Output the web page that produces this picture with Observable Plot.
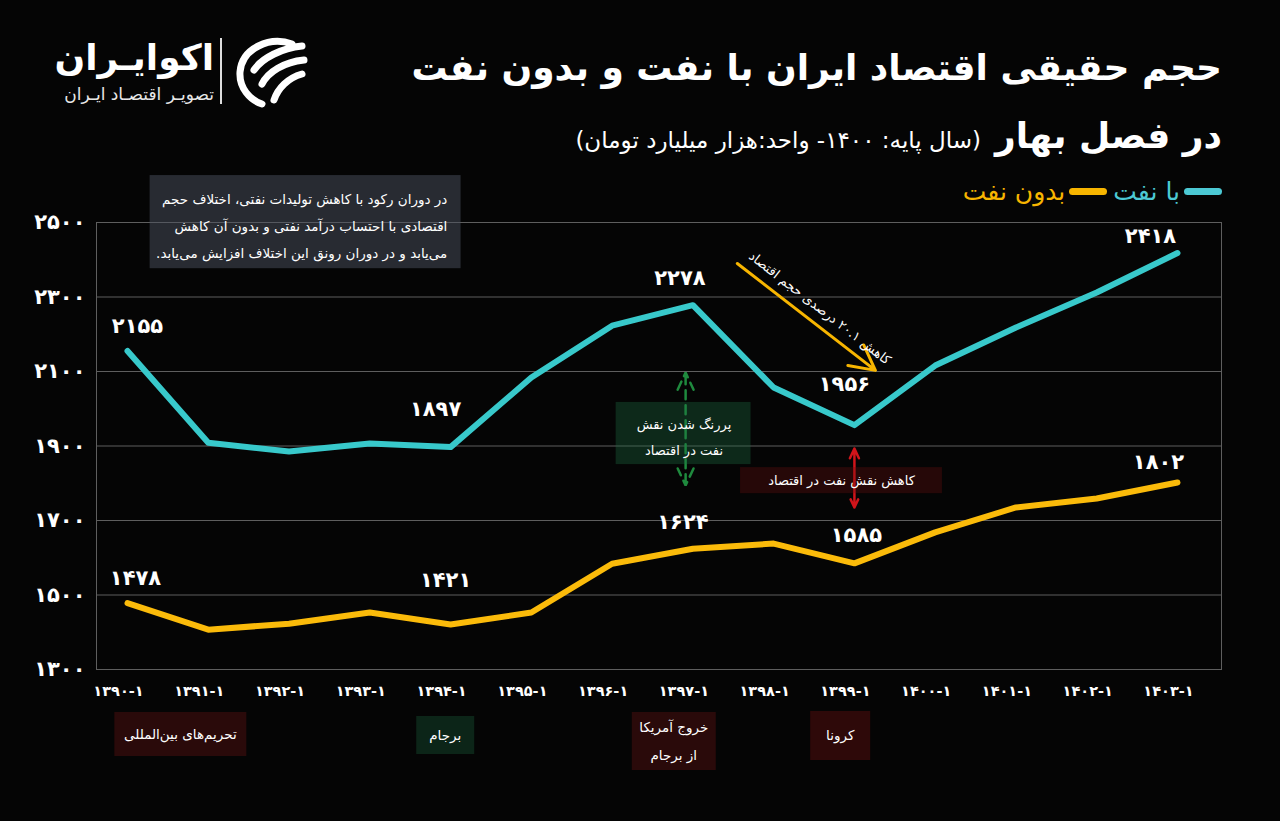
<!DOCTYPE html>
<html><head><meta charset="utf-8">
<script src="https://cdn.jsdelivr.net/npm/d3@7"></script>
<script src="https://cdn.jsdelivr.net/npm/@observablehq/plot@0.6"></script>
<style>
html,body{margin:0;padding:0;background:#050505;}
#wrap{position:relative;width:1280px;height:821px;overflow:hidden;background:#050505;font-family:'DejaVu Sans',sans-serif;color:#fff;}
.abs{position:absolute;white-space:nowrap;}
#chart{position:absolute;left:0;top:0;}
#t1{right:58px;top:50px;font-size:36px;font-weight:bold;direction:rtl;line-height:1;}
#t2{right:58px;top:118px;direction:rtl;line-height:1;}
#t2 .b{font-size:36px;font-weight:bold;}
#t2 .s{font-size:23px;margin-right:14px;}
#legend{right:58px;top:179px;direction:rtl;display:flex;align-items:center;font-size:25px;line-height:1;}
#legend .sw{width:38px;height:7px;border-radius:4px;margin-left:4px;}
#logo{left:50px;top:36px;width:260px;height:72px;}
#logo .n{position:absolute;right:96px;top:2px;font-size:36px;font-weight:bold;direction:rtl;line-height:1.1;}
#logo .d{position:absolute;right:96px;top:50px;font-size:17px;direction:rtl;line-height:1;color:#e8e8e8;}
#logo .bar{position:absolute;left:170px;top:2px;width:2px;height:66px;background:#ddd;}
#logo svg{position:absolute;left:182px;top:0;}
</style></head>
<body><div id="wrap">
<div id="chart"></div>
<div class="abs" id="logo">
  <div class="n">اکوایـران</div>
  <div class="d">تصویـر اقتصـاد ایـران</div>
  <div class="bar"></div>
  <svg width="76" height="72" viewBox="0 0 76 72">
    <g fill="none" stroke="#fff" stroke-linecap="round">
      <path d="M60 8 C38 0 10 12 8 36 C7 52 18 64 30 68" stroke-width="7"/>
      <path d="M70 10 C50 12 30 22 22 34" stroke-width="7"/>
      <path d="M72 24 C52 26 36 36 30 48" stroke-width="7"/>
      <path d="M70 38 C56 42 46 52 42 64" stroke-width="7"/>
    </g>
  </svg>
</div>
<div class="abs" id="t1">حجم حقیقی اقتصاد ایران با نفت و بدون نفت</div>
<div class="abs" id="t2"><span class="b">در فصل بهار</span><span class="s">(سال پایه: ۱۴۰۰- واحد:هزار میلیارد تومان)</span></div>
<div class="abs" id="legend">
  <span class="sw" style="background:#4cc9d4"></span><span style="color:#4cc9d4;margin-left:6px">با نفت</span>
  <span class="sw" style="background:#f7b500"></span><span style="color:#f7b500">بدون نفت</span>
</div>
</div>
<script>
// ---- data ----
const years = [1390, 1391, 1392, 1393, 1394, 1395, 1396, 1397, 1398, 1399, 1400, 1401, 1402, 1403];
const withOil = [2155, 1909, 1885, 1907, 1897, 2084, 2223, 2278, 2057, 1956, 2116, 2218, 2312, 2418];
const withoutOil = [1478, 1407, 1423, 1453, 1421, 1453, 1584, 1624, 1638, 1585, 1668, 1735, 1759, 1802];
const seriesNames = ["با نفت", "بدون نفت"];
const yTicks = [1300, 1500, 1700, 1900, 2100, 2300, 2500];
const labeledYears = [1390, 1394, 1397, 1399, 1403];
const events = ["تحریم‌های بین‌المللی", "برجام", "خروج آمریکا\nاز برجام", "کرونا"];
const noteText = "در دوران رکود با کاهش تولیدات نفتی، اختلاف حجم\nاقتصادی با احتساب درآمد نفتی و بدون آن کاهش\nمی‌یابد و در دوران رونق این اختلاف افزایش می‌یابد.";
const greenNote = "پررنگ شدن نقش\nنفت در اقتصاد";
const redNote = "کاهش نقش نفت در اقتصاد";
const arrowNote = "کاهش ۲۰.۱ درصدی حجم اقتصاد";

// ---- helpers ----
const fa = v => String(v).replace(/\d/g, d => "۰۱۲۳۴۵۶۷۸۹"[+d]);
const rtl = s => s.split("\n").map(l => "\u200F" + l + "\u200F").join("\n");
const colors = ["#38c9cb", "#fbbb0a"];
const rows = years.flatMap((yr, i) => [
  {year: yr, value: withOil[i], series: seriesNames[0]},
  {year: yr, value: withoutOil[i], series: seriesNames[1]}
]);

// layout of value labels (pixel offsets)
const labelOffsets = {
  [seriesNames[0]]: {1390: [10, -25], 1394: [-15, -38], 1397: [-13, -27], 1399: [-10, -41], 1403: [-27, -17]},
  [seriesNames[1]]: {1390: [8, -25], 1394: [-5, -44], 1397: [-10, -27], 1399: [2, -28], 1403: [-19, -20]}
};
const labelRows = rows.filter(r => labeledYears.includes(r.year));
const font = "'DejaVu Sans', sans-serif";

const labelMarks = labelRows.map(r => {
  const [dx, dy] = labelOffsets[r.series][r.year];
  return Plot.text([r], {x: "year", y: "value", text: d => fa(d.value), dx, dy,
    fill: "#fff", fontSize: 21, fontWeight: "bold"});
});

const plot = Plot.plot({
  width: 1280, height: 821,
  marginLeft: 96, marginRight: 59, marginTop: 222, marginBottom: 152,
  style: {background: "transparent", color: "#fff", fontFamily: font, overflow: "visible"},
  x: {type: "linear", domain: [1389.616, 1403.545], axis: null, label: null},
  y: {domain: [1300, 2500], axis: null, label: null},
  color: {domain: seriesNames, range: colors},
  marks: [
    Plot.gridY(yTicks, {stroke: "#5e5e5e", strokeOpacity: 1, strokeWidth: 1}),
    Plot.frame({stroke: "#5e5e5e"}),
    Plot.axisY(yTicks, {tickSize: 0, tickPadding: 11, tickFormat: fa, fontSize: 21, fontWeight: "bold", fill: "#fff", label: null}),
    Plot.axisX(years, {tickSize: 0, tickPadding: 16, dx: -9, label: null,
      tickFormat: y => "\u202D" + fa(y) + "-" + fa(1) + "\u202C", fontSize: 14.5, fontWeight: "bold", fill: "#fff"}),
    // top-left note box
    Plot.rect([0], {x1: 1390.28, x2: 1394.13, y1: 2376, y2: 2626, fill: "rgba(75,82,95,0.5)"}),
    Plot.text([rtl(noteText)], {x: 1393.96, y: 2501, text: d => d, textAnchor: "end", fontSize: 13.5, lineHeight: 2.0, fill: "#fff"}),
    // green arrows + box
    Plot.arrow([{y1: 1945, y2: 2097}, {y1: 1945, y2: 1794}], {x1: 1396.91, x2: 1396.91, y1: "y1", y2: "y2",
      stroke: "#1f8a3e", strokeWidth: 2.5, strokeDasharray: "9,6", headLength: 12, headAngle: 50}),
    Plot.rect([0], {x1: 1396.05, x2: 1397.72, y1: 1850, y2: 2017, fill: "rgba(30,110,65,0.35)"}),
    Plot.text([rtl(greenNote)], {x: 1396.89, y: 1933, text: d => d, fontSize: 13, lineHeight: 2, fill: "#fff"}),
    // red arrows + box
    Plot.arrow([{y1: 1807, y2: 1893}, {y1: 1807, y2: 1735}], {x1: 1399, x2: 1399, y1: "y1", y2: "y2",
      stroke: "#d0141a", strokeWidth: 2.5, headLength: 11, headAngle: 50}),
    Plot.rect([0], {x1: 1397.59, x2: 1400.09, y1: 1772, y2: 1842, fill: "rgba(110,15,15,0.32)"}),
    Plot.text([rtl(redNote)], {x: 1398.84, y: 1807, text: d => d, fontSize: 13, fill: "#fff"}),
    // yellow arrow with rotated note
    Plot.arrow([0], {x1: 1397.55, y1: 2390, x2: 1399.26, y2: 2103, stroke: "#f7b500", strokeWidth: 3, headLength: 14, headAngle: 55}),
    Plot.text([arrowNote], {x: 1398.57, y: 2270, text: d => d, rotate: 37.8, fontSize: 13, fill: "#fff"}),
    // series
    Plot.line(rows, {x: "year", y: "value", z: "series", stroke: "series", strokeWidth: 6,
      strokeLinejoin: "round", strokeLinecap: "round"}),
    ...labelMarks
  ]
});
document.getElementById("chart").appendChild(plot);

// bottom event boxes positioned with the chart's x scale
const xs = plot.scale("x");
const eventLayout = [
  {at: 1390.66, w: 132, top: 712, h: 44, fill: "#2a0a0a"},
  {at: 1393.94, w: 58, top: 716, h: 38, fill: "#0c2518"},
  {at: 1396.77, w: 84, top: 712, h: 58, fill: "#2a0a0a"},
  {at: 1398.83, w: 60, top: 711, h: 49, fill: "rgba(80,12,12,0.55)"}
];
const svg = d3.select(plot);
const g = svg.append("g").attr("font-family", font).attr("fill", "#fff").attr("font-size", 13.5).attr("text-anchor", "middle");
events.forEach((txt, i) => {
  const L = eventLayout[i];
  const cx = xs.apply(L.at);
  g.append("rect").attr("x", cx - L.w / 2).attr("y", L.top).attr("width", L.w).attr("height", L.h).attr("fill", L.fill);
  const lines = txt.split("\n");
  const lh = 28;
  const y0 = L.top + L.h / 2 - (lines.length - 1) * lh / 2;
  lines.forEach((ln, j) => {
    g.append("text").attr("x", cx).attr("y", y0 + j * lh).attr("dy", "0.35em").text("\u200F" + ln + "\u200F");
  });
});
</script>
</body></html>
